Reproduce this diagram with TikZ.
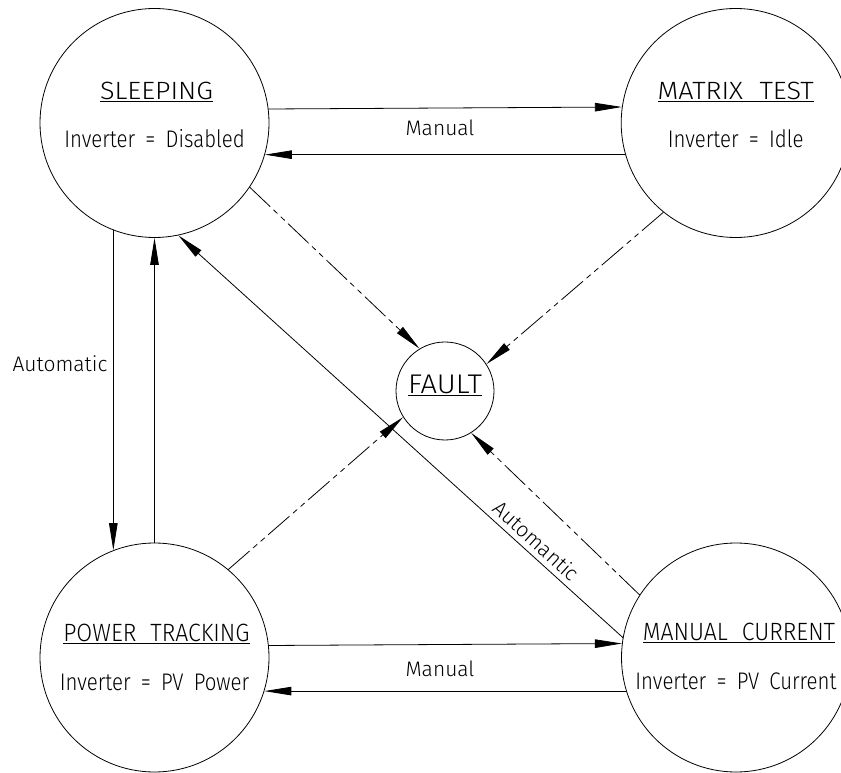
\documentclass[tikz,border=0pt]{standalone}
\usepackage{fontspec}
\setmainfont{Fira Sans Light}[FakeStretch=0.85,WordSpace=1.8]
\newfontfamily\capfont{Fira Sans Light}[FakeStretch=1.08,WordSpace=2.2]
\newfontfamily\narrowcapfont{Fira Sans Light}[FakeStretch=0.92,WordSpace=2.2]
\newfontfamily\lblfont{Fira Sans Light}[FakeStretch=1.0]
\usetikzlibrary{arrows.meta}
\newcommand{\bigtxt}{\fontsize{24}{28}\selectfont}
\newcommand{\captxt}{\capfont\fontsize{25}{30}\selectfont}
\newcommand{\narrowcaptxt}{\narrowcapfont\fontsize{25}{30}\selectfont}
\newcommand{\smalltxt}{\lblfont\fontsize{21}{25}\selectfont}

\begin{document}
\begin{tikzpicture}[line cap=round,line join=round,>={Triangle[length=27pt,width=8.5pt]},x=1pt,y=1pt,
	state/.style={draw,circle,line width=0.8pt,minimum size=229pt,inner sep=0pt},
	title/.style={anchor=base,font=\captxt},
	body/.style={anchor=base,font=\bigtxt},
	lbl/.style={anchor=base,font=\smalltxt},
	flow/.style={line width=0.8pt,->},
	fail/.style={line width=0.8pt,->,dash pattern=on 28pt off 5pt on 5pt off 5pt on 5pt off 5pt}]
		\clip (0,0) rectangle (841,772);
		% states
		\node[state] (sleep) at (154.5,649) {};
		\node[state] (matrix) at (735.7,649) {};
		\node[state] (power) at (154.5,114.5) {};
		\node[state] (mcur) at (736,114.5) {};
		\node[state,minimum size=98pt] (fault) at (445,381) {};
		\node[title] (sleepa) at ([xshift=2pt,yshift=23pt]sleep.center) {\underline{SLEEPING}};
		\node[body] (sleepb) at ([yshift=-25pt]sleep.center) {Inverter = Disabled};
		\node[title] (matrixa) at ([yshift=23pt]matrix.center) {\underline{MATRIX TEST}};
		\node[body] (matrixb) at ([yshift=-25pt]matrix.center) {Inverter = Idle};
		\node[title,font=\narrowcaptxt] (powera) at ([xshift=2pt,yshift=16pt]power.center) {\underline{POWER TRACKING}};
		\node[body] (powerb) at ([yshift=-32.5pt]power.center) {Inverter = PV Power};
		\node[title,font=\narrowcaptxt] (mcura) at ([xshift=3pt,yshift=17pt]mcur.center) {\underline{MANUAL CURRENT}};
		\node[body] (mcurb) at ([yshift=-32pt]mcur.center) {Inverter = PV Current};
		\node[title,font=\capfont\fontsize{27}{30}\selectfont] (faulta) at ([yshift=-3pt]fault.center) {\underline{FAULT}};
		% manual transitions
		\draw[flow] (sleep.7.5) -- (matrix.172.5);
		\draw[flow] (matrix.196.6) -- (sleep.-16.6);
		\draw[flow] (power.6.8) -- (mcur.173.2);
		\draw[flow] (mcur.197) -- (power.-17);
		\node[lbl] (mana) at (440,636) {Manual};
		\node[lbl] (manb) at (440,95.3) {Manual};
		% automatic transitions
		\draw[flow] (sleep.-111.4) -- (power.111.4);
		\draw[flow] (power.90) -- (sleep.-90);
		\node[lbl] (autoa) at (60,400) {Automatic};
		\draw[flow] (mcur.170) -- node[pos=0.215,sloped,above=2pt,font=\smalltxt] (autob) {Automantic} (sleep.-78);
		% faults
		\draw[fail] (sleep.-34) -- (fault.121.8);
		\draw[fail] (matrix.-129.6) -- (fault.33.6);
		\draw[fail] (power.50.3) -- (fault.-148);
		\draw[fail] (mcur.147) -- (fault.-58);
	\end{tikzpicture}
\end{document}
